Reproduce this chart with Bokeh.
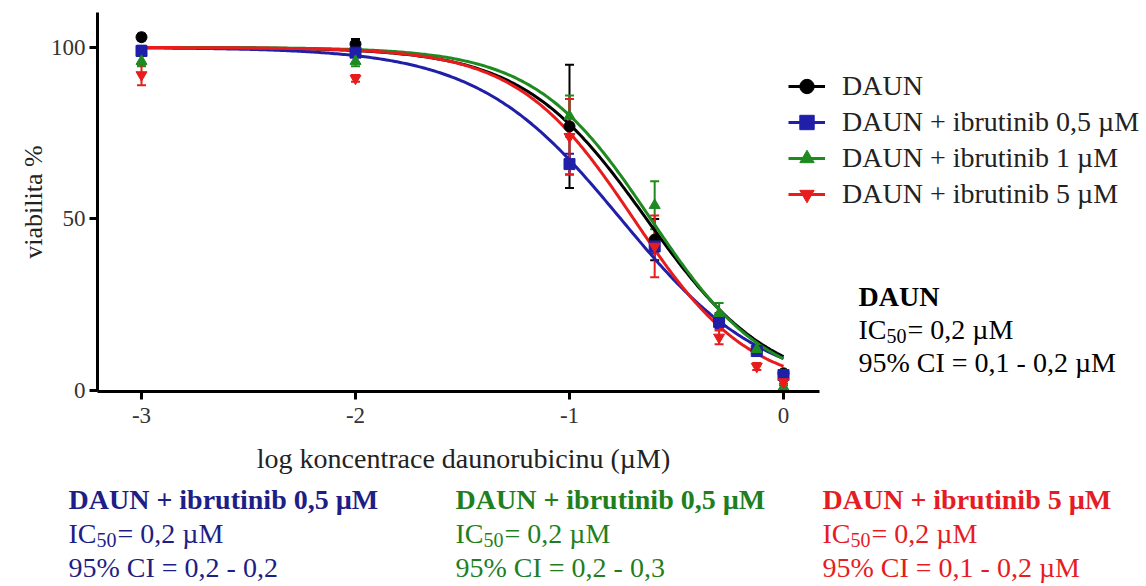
import numpy as np
from bokeh.plotting import figure
from bokeh.layouts import column
from bokeh.models import (Label, Legend, LegendItem, Whisker, ColumnDataSource,
                          TeeHead, FixedTicker, Range1d)
from bokeh.embed import file_html
from bokeh.resources import INLINE

# ---------------- data ----------------
log_conc = [-3.0, -2.0, -1.0, -0.602, -0.301, -0.125, 0.0]
x_ticks = [-3, -2, -1, 0]
y_ticks = [0, 50, 100]

series_names = ["DAUN", "DAUN + ibrutinib 0,5 \u00b5M",
                "DAUN + ibrutinib 1 \u00b5M", "DAUN + ibrutinib 5 \u00b5M"]

daun_mean = [103, 101, 77, 44, 20.5, 11.5, 5]
daun_err = [1, 1.5, 18, 6, 2, 1, 1]
ib05_mean = [99, 98.5, 66, 42, 20, 11.5, 4.5]
ib05_err = [1.5, 1, 3, 2, 2, 1, 1.5]
ib1_mean = [96, 96, 80, 54, 22.5, 12, 1]
ib1_err = [1.5, 1.5, 6, 7, 3, 1, 1]
ib5_mean = [92, 91, 74, 42, 15.5, 7, 2.5]
ib5_err = [3, 1, 11, 9, 2, 1, 1]

# fitted 4PL parameters (top, bottom, logIC50, hill slope)
fit_top = [100, 100, 100, 100]
fit_bottom = [0, 0, 0, 0]
fit_logic50 = [-0.64, -0.76, -0.62, -0.70]
fit_hill = [1.5, 1.3, 1.6, 1.6]

colors = ["#000000", "#1f1fa8", "#1f8a1f", "#e81c1c"]
text_colors = ["#000000", "#1e1e86", "#1f7f1f", "#e61c24"]
markers = ["circle", "square", "triangle", "inverted_triangle"]

x_title = "log koncentrace daunorubicinu (\u00b5M)"
y_title = "viabilita %"
ann_title = ["DAUN", "DAUN + ibrutinib 0,5 \u00b5M", "DAUN + ibrutinib 0,5 \u00b5M",
             "DAUN + ibrutinib 5 \u00b5M"]
ann_ic50 = ["= 0,2 \u00b5M", "= 0,2 \u00b5M", "= 0,2 \u00b5M", "= 0,2 \u00b5M"]
ann_ci = ["95% CI = 0,1 - 0,2 \u00b5M", "95% CI = 0,2 - 0,2", "95% CI = 0,2 - 0,3",
          "95% CI = 0,1 - 0,2 \u00b5M"]

means = [daun_mean, ib05_mean, ib1_mean, ib5_mean]
errs = [daun_err, ib05_err, ib1_err, ib5_err]

# ---------------- layout geometry ----------------
W = 1146
H_MAIN, H_BOT = 440, 146
FL, FT, FB = 97, 12, 391        # main frame left / top / bottom on canvas
X_M3, PX_PER_X = 141, 214.0     # canvas x of log = -3 and px per decade
SERIF = "Liberation Serif"

x_lo = -3 + (FL - X_M3) / PX_PER_X
x_hi = -3 + (W - X_M3) / PX_PER_X

p = figure(width=W, height=H_MAIN, output_backend="svg", toolbar_location=None,
           x_range=Range1d(x_lo, x_hi), y_range=Range1d(-0.3, 110.2),
           min_border_left=FL, min_border_right=0,
           min_border_top=FT, min_border_bottom=H_MAIN - FB)
p.frame_align = False
p.outline_line_color = None
p.xgrid.visible = False
p.ygrid.visible = False

for ax in (p.xaxis[0], p.yaxis[0]):
    ax.axis_line_width = 3
    ax.axis_line_color = "black"
    ax.major_tick_line_width = 3
    ax.major_tick_line_color = "black"
    ax.major_tick_out = 8
    ax.major_tick_in = 0
    ax.minor_tick_line_color = None
    ax.major_label_text_font = SERIF
    ax.major_label_text_font_size = "23px"
    ax.major_label_text_color = "#333333"
    ax.axis_label_text_font = SERIF
    ax.axis_label_text_font_style = "normal"
    ax.axis_label_text_font_size = "26px"
    ax.axis_label_text_color = "#222222"

p.xaxis.ticker = FixedTicker(ticks=x_ticks)
p.xaxis.major_label_overrides = {t: str(t) for t in x_ticks}
p.xaxis.bounds = (x_lo, 0.17)
p.xaxis.major_label_standoff = 8
p.yaxis.ticker = FixedTicker(ticks=y_ticks)
p.yaxis.axis_label = y_title
p.yaxis.major_label_standoff = 4
p.yaxis.axis_label_standoff = 0

xs = np.linspace(-3.0, 0.0, 300)
line_rs = []
for i in range(4):
    ys = fit_bottom[i] + (fit_top[i] - fit_bottom[i]) / (1 + 10 ** ((xs - fit_logic50[i]) * fit_hill[i]))
    line_rs.append(p.line(xs, ys, line_color=colors[i], line_width=3))

legend_items = []
for i in range(4):
    m = np.array(means[i], dtype=float)
    e = np.array(errs[i], dtype=float)
    src = ColumnDataSource(dict(x=log_conc, y=m, upper=m + e, lower=m - e))
    wk = Whisker(base="x", upper="upper", lower="lower", source=src,
                 line_color=colors[i], line_width=2,
                 upper_head=TeeHead(size=9, line_color=colors[i], line_width=2),
                 lower_head=TeeHead(size=9, line_color=colors[i], line_width=2))
    p.add_layout(wk)
    sr = p.scatter("x", "y", source=src, marker=markers[i], size=11,
                   fill_color=colors[i], line_color=colors[i])
    legend_items.append(LegendItem(label=series_names[i], renderers=[line_rs[i], sr]))

legend = Legend(items=legend_items, location=(788 - FL, FB - 212))
legend.padding = 0
legend.margin = 0
legend.spacing = 0
legend.glyph_width = 37
legend.glyph_height = 36
legend.label_height = 36
legend.label_standoff = 17
legend.label_text_font = SERIF
legend.label_text_font_size = "28px"
legend.label_text_color = "#222222"
legend.border_line_color = None
legend.background_fill_alpha = 0
p.add_layout(legend)

# ---------------- bottom text panel ----------------
b = figure(width=W, height=H_BOT, output_backend="svg", toolbar_location=None,
           x_range=Range1d(0, W), y_range=Range1d(0, H_BOT),
           x_axis_type=None, y_axis_type=None,
           min_border_left=0, min_border_right=0, min_border_top=0, min_border_bottom=0)
b.frame_align = False
b.outline_line_color = None
b.xgrid.visible = False
b.ygrid.visible = False


def add_text(fig, X, Y, text, color, size="28px", style="normal", align="left"):
    if fig is p:
        sx, sy = X - FL, FB - Y
    else:
        sx, sy = X, (H_MAIN + H_BOT) - Y
    fig.add_layout(Label(x=sx, y=sy, x_units="screen", y_units="screen",
                         text=text, text_color=color, text_font=SERIF,
                         text_font_size=size, text_font_style=style,
                         text_baseline="middle", text_align=align))


def add_block(fig, X, Y0, dy, idx):
    c = text_colors[idx]
    add_text(fig, X, Y0, ann_title[idx], c, style="bold")
    add_text(fig, X, Y0 + dy, "IC", c)
    add_text(fig, X + 28, Y0 + dy + 6, "50", c, size="20px")
    add_text(fig, X + 49, Y0 + dy, ann_ic50[idx], c)
    add_text(fig, X, Y0 + 2 * dy, ann_ci[idx], c)


add_block(p, 858, 296, 33, 0)
add_text(b, 463, 458, x_title, "#222222", size="28px", align="center")
add_block(b, 68, 499, 34, 1)
add_block(b, 455, 499, 34, 2)
add_block(b, 822, 499, 34, 3)

layout = column(p, b, spacing=0)
open("out.html", "w").write(file_html(layout, INLINE))
